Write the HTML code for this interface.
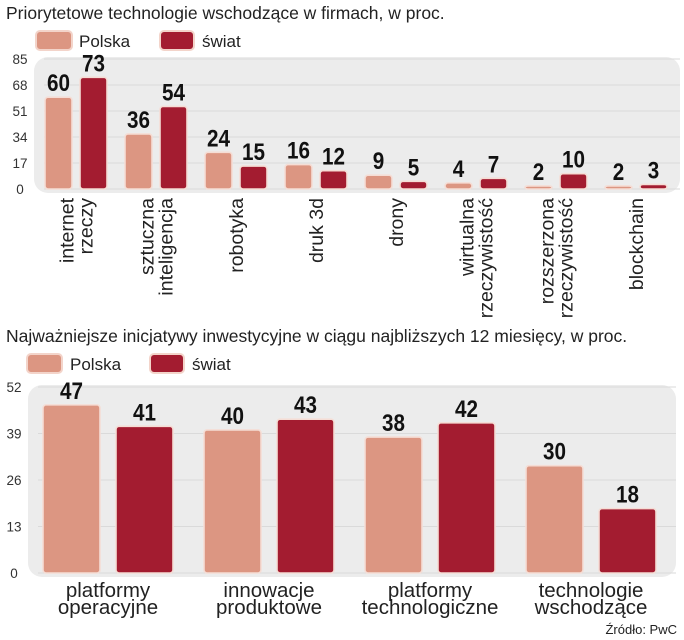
<!DOCTYPE html>
<html><head><meta charset="utf-8">
<style>
html,body{margin:0;padding:0;background:#fff;}
svg{display:block;font-family:"Liberation Sans",sans-serif;}
.val{font-family:"Liberation Sans Narrow","Liberation Sans",sans-serif;font-weight:bold;fill:#111;}
</style></head>
<body>
<svg id="c" width="684" height="640" viewBox="0 0 684 640">
  <text x="6" y="19" font-size="17.5" fill="#222">Priorytetowe technologie wschodzące w firmach, w proc.</text>
  <rect x="36" y="31" width="36" height="19" rx="4" fill="#dc9682" stroke="#f3d4ca" stroke-width="2"/>
  <text x="79" y="47" font-size="17" fill="#222">Polska</text>
  <rect x="160" y="31" width="34" height="19" rx="4" fill="#a31c30" stroke="#f3d4ca" stroke-width="2"/>
  <text x="202" y="47" font-size="17" fill="#222">świat</text>

  <text x="6" y="342" font-size="17.5" fill="#222">Najważniejsze inicjatywy inwestycyjne w ciągu najbliższych 12 miesięcy, w proc.</text>
  <rect x="27" y="354" width="35" height="19" rx="4" fill="#dc9682" stroke="#f3d4ca" stroke-width="2"/>
  <text x="70" y="370" font-size="17" fill="#222">Polska</text>
  <rect x="150" y="354" width="34" height="19" rx="4" fill="#a31c30" stroke="#f3d4ca" stroke-width="2"/>
  <text x="192" y="370" font-size="17" fill="#222">świat</text>

  <text x="677" y="634" font-size="13" fill="#222" text-anchor="end">Źródło: PwC</text>
  <g id="g1"></g>
  <g id="g2"></g>
</svg>
<script>
const cats1 = [["internet","rzeczy"],["sztuczna","inteligencja"],["robotyka"],["druk 3d"],["drony"],["wirtualna","rzeczywistość"],["rozszerzona","rzeczywistość"],["blockchain"]];
const polska1 = [60,36,24,16,9,4,2,2];
const swiat1 = [73,54,15,12,5,7,10,3];
const ticks1 = [0,17,34,51,68,85];

const cats2 = [["platformy","operacyjne"],["innowacje","produktowe"],["platformy","technologiczne"],["technologie","wschodzące"]];
const polska2 = [47,40,38,30];
const swiat2 = [41,43,42,18];
const ticks2 = [0,13,26,39,52];

const NS="http://www.w3.org/2000/svg";
function mk(tag,attrs,parent){const e=document.createElementNS(NS,tag);for(const k in attrs)e.setAttribute(k,attrs[k]);parent.appendChild(e);return e;}

function draw(g,cfg,cats,pl,sw,ticks){
  const y=v=>cfg.y0-(v/cfg.max)*cfg.h;
  const bg=mk('rect',{x:cfg.px,y:y(cfg.max)-2,width:cfg.pw,height:cfg.h+6,rx:14,fill:'#ececec'},g);
  
  
  ticks.forEach(t=>{
    const l=mk('line',{x1:cfg.px+10,x2:cfg.px+cfg.pw,y1:y(t),y2:y(t),stroke:'#dadada','stroke-width':1},g);
    
    
    const tx=mk('text',{x:cfg.tx,y:y(t)+5,'font-size':13.5,fill:'#333','text-anchor':'middle'},g);
    tx.textContent=t;
    
    
  });
  cats.forEach((c,i)=>{
    const gx=cfg.x0+i*cfg.pitch;
    [[pl[i],'#dc9682',gx,'polska'],[sw[i],'#a31c30',gx+cfg.bw+cfg.gap,'swiat']].forEach(([v,col,bx,s])=>{
      const top=Math.min(y(v),cfg.y0-3);
      const r=mk('rect',{x:bx,y:top,width:cfg.bw,height:cfg.y0-top,rx:3,fill:col,stroke:'#f5ddd5','stroke-width':1.6},g);
      
      
      const str=String(v);
      const t=mk('text',{x:bx+cfg.bw/2,y:top-6,'font-size':cfg.vfs,'text-anchor':'middle',class:'val',textLength:str.length*11.5,lengthAdjust:'spacingAndGlyphs'},g);
      t.textContent=str;
      
      
    });
    const cx=gx+cfg.bw+cfg.gap/2;
    if(cfg.rot){
      const n=c.length;
      c.forEach((line,j)=>{
        const lx=cx+(j-(n-1)/2)*19+7;
        const t=mk('text',{x:lx,y:cfg.y0+9,'font-size':19.5,fill:'#222','text-anchor':'end',transform:`rotate(-90 ${lx} ${cfg.y0+9})`},g);
        t.textContent=line;
        
        
      });
    } else {
      c.forEach((line,j)=>{
        const t=mk('text',{x:cx,y:cfg.y0+24+j*17,'font-size':20.5,fill:'#222','text-anchor':'middle'},g);
        t.textContent=line;
        
        
      });
    }
  });
}
draw(document.getElementById('g1'),{id:'chart1',y0:189,h:130,max:85,px:34,pw:646,tx:20,x0:45,pitch:80,bw:27,gap:8,vfs:24,rot:true},cats1,polska1,swiat1,ticks1);
draw(document.getElementById('g2'),{id:'chart2',y0:573,h:186,max:52,px:28,pw:648,tx:14,x0:43,pitch:161,bw:57,gap:16,vfs:24,rot:false},cats2,polska2,swiat2,ticks2);
</script>
</body></html>
